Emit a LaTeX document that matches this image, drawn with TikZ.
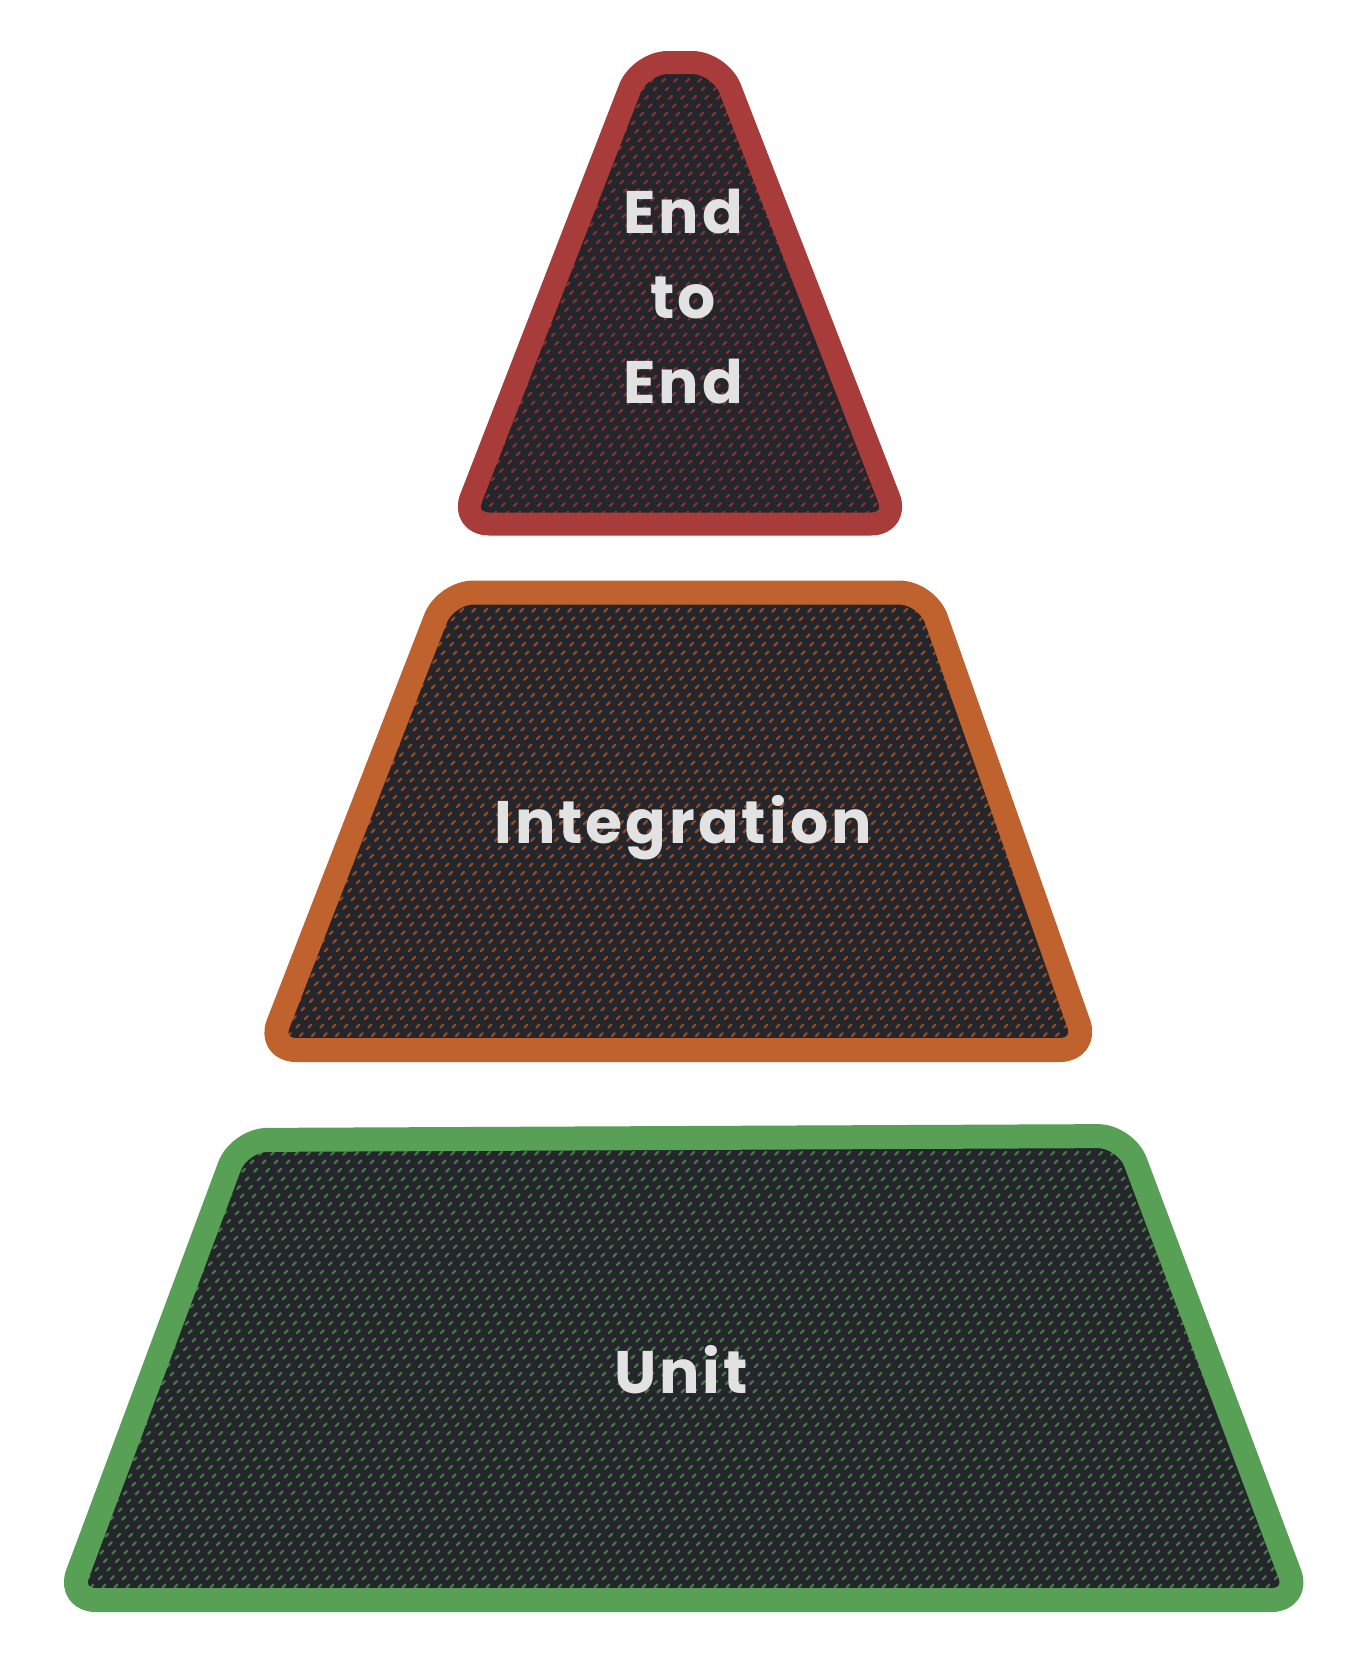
\documentclass[tikz,border=0pt]{standalone}
\usepackage{fontspec}
\setmainfont{Poppins}[LetterSpace=5]
\definecolor{redS}{HTML}{A83C3A}
\definecolor{orgS}{HTML}{C0622E}
\definecolor{grnS}{HTML}{58A055}
\definecolor{darkF}{HTML}{25262B}
\definecolor{txtC}{HTML}{E2E2E2}
\newcommand{\hatchfill}[6]{% color, ymin, ymax, cmin, cnext, cmax
  \foreach \c in {#4,#5,...,#6}{
    \draw[#1, line width=2.4pt, line cap=round, dash pattern=on 4pt off 8pt, opacity=0.65]
      ({\c-#3},#3) -- ({\c-#2},#2);
  }}
\tikzset{
  lbl/.style={inner sep=0pt, text=txtC, font=\bfseries\fontsize{60}{85}\selectfont, align=center},
  layerline/.style={line width=#1, rounded corners=28pt, line join=round},
}
\begin{document}
\begin{tikzpicture}[x=1pt,y=-1pt]
\useasboundingbox (0,0) rectangle (1364,1666);
\fill[white] (0,0) rectangle (1364,1666);
\def\redpath{(640,62.5) -- (720,62.5) -- (899,524) -- (461,524) -- cycle}
\def\orgpath{(445.6,592.5) -- (927,592.5) -- (1088,1050) -- (268,1050) -- cycle}
\def\grnpath{(239.3,1140) -- (1125.7,1136) -- (1299.6,1600) -- (67.8,1600) -- cycle}
% red layer
\fill[darkF, rounded corners=28pt] \redpath;
\begin{scope}
  \clip[rounded corners=28pt] \redpath;
  \hatchfill{redS}{40}{540}{480}{492}{1460}
\end{scope}
\draw[redS, layerline=23pt] \redpath;
% orange layer
\fill[darkF, rounded corners=28pt] \orgpath;
\begin{scope}
  \clip[rounded corners=28pt] \orgpath;
  \hatchfill{orgS}{570}{1070}{820}{832}{2180}
\end{scope}
\draw[orgS, layerline=24pt] \orgpath;
% green layer
\fill[darkF, rounded corners=28pt] \grnpath;
\begin{scope}
  \clip[rounded corners=28pt] \grnpath;
  \hatchfill{grnS}{1110}{1630}{1150}{1162}{2960}
\end{scope}
\draw[grnS, layerline=24pt] \grnpath;
% labels
\node[lbl] (e2e) at (683,297) {End\\to\\End};
\node[lbl, anchor=base] (integ) at (683,843) {Integration};
\node[lbl, anchor=base] (unit) at (681,1393) {Unit};
\end{tikzpicture}
\end{document}
